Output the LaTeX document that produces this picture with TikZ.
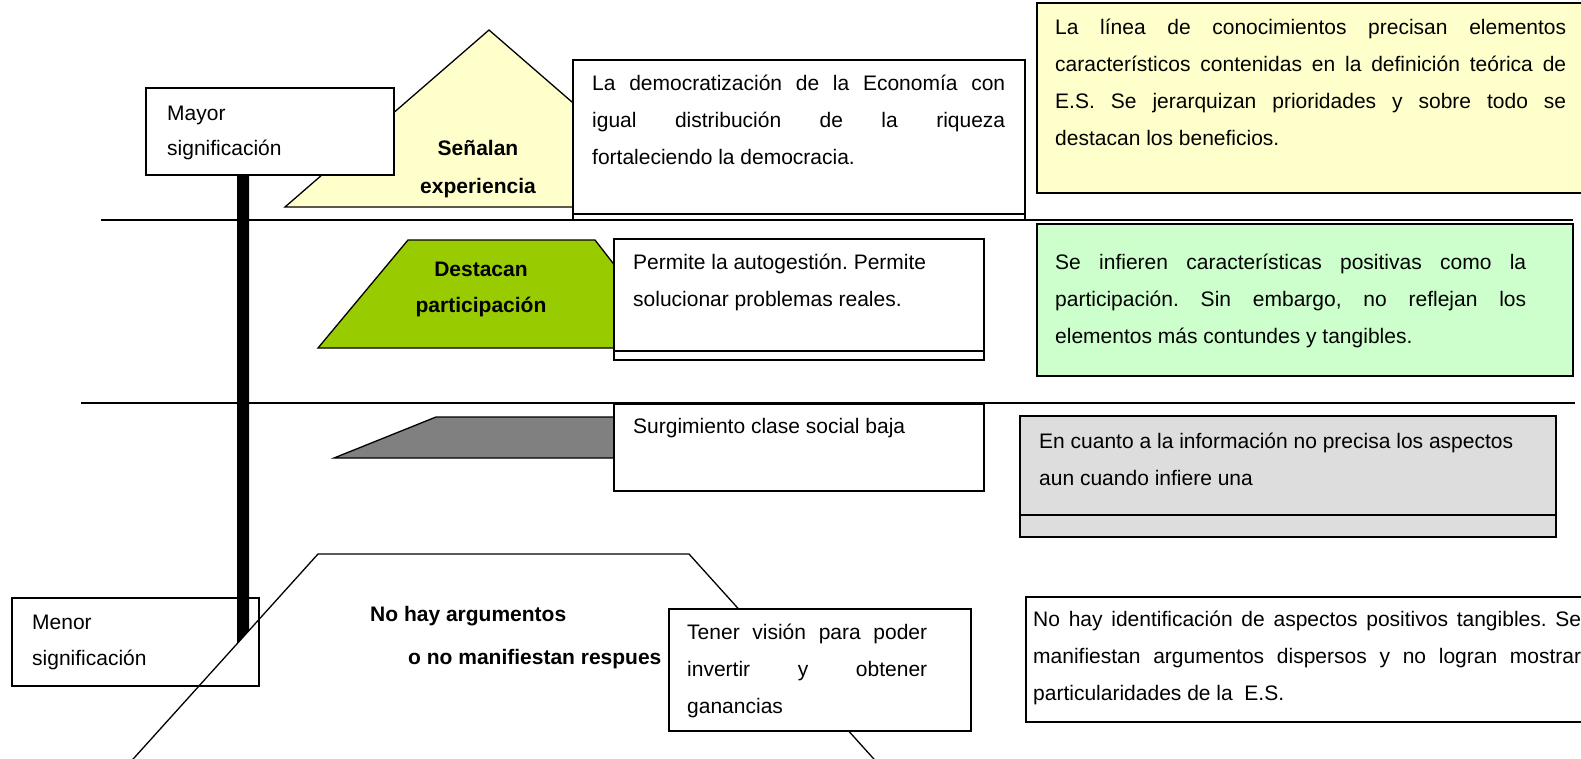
\documentclass[tikz,border=0pt]{standalone}
\usepackage{fontspec}
\setmainfont{Liberation Sans}
\frenchspacing
\definecolor{yellowA}{HTML}{FFFFCC}
\definecolor{greenA}{HTML}{CCFFCC}
\definecolor{greenT}{HTML}{99CC00}
\definecolor{grayT}{HTML}{808080}
\definecolor{grayB}{HTML}{DDDDDD}
\newcommand{\tbox}[3]{\parbox[t]{#1}{\fontsize{21}{#2}\selectfont\frenchspacing\tolerance=10000\hyphenpenalty=10000\emergencystretch=20pt #3}}
\newcommand{\cbox}[3]{\parbox[t]{#1}{\fontsize{21}{#2}\selectfont\bfseries\centering #3}}
\begin{document}
\begin{tikzpicture}[x=1pt,y=-1pt,
  ln/.style={line width=1.6pt},
  bx/.style={draw=black, line width=1.6pt, fill=white},
  shp/.style={draw=black, line width=1.3pt},
  txt/.style={anchor=base west, inner sep=0pt},
  ctxt/.style={anchor=base, inner sep=0pt}]
\useasboundingbox (0,0) rectangle (1581,758);
\clip (0,0) rectangle (1581,758);
% horizontal rules
\draw[ln] (101,220) -- (1573,220);
\draw[ln] (81,403) -- (1575,403);
% yellow triangle
\draw[shp, fill=yellowA] (285,207) -- (489,30) -- (693,207) -- cycle;
% Menor box
\draw[bx] (12,598) rectangle (259,686);
\node[txt] (menor) at (32,629) {\tbox{220pt}{36}{Menor\\significación}};
% vertical bar
\fill[black] (237,170) -- (249,170) -- (249,630.5) -- (237,643.8) -- cycle;
% Mayor box
\draw[bx] (146,88) rectangle (394,175);
\node[txt] (mayor) at (167,120) {\tbox{220pt}{35}{Mayor\\significación}};
\node[ctxt] (senalan) at (478,155) {\cbox{200pt}{38}{Señalan\\experiencia}};
% box 1
\draw[bx] (573,60) rectangle (1025,220);
\draw[ln] (573,214) -- (1025,214);
\node[txt] (t1) at (592,90) {\tbox{413pt}{37}{La democratización de la Economía con\linebreak igual distribución de la riqueza\linebreak fortaleciendo la democracia.}};
% right yellow box
\draw[bx, fill=yellowA] (1037,3) rectangle (1600,193);
\node[txt] (r1) at (1055,34) {\tbox{511pt}{37}{La línea de conocimientos precisan elementos\linebreak característicos contenidas en la definición teórica de\linebreak E.S. Se jerarquizan prioridades y sobre todo se\linebreak destacan los beneficios.}};
% green trapezoid
\draw[shp, fill=greenT] (318,348) -- (408,240) -- (595,240) -- (679,348) -- cycle;
\node[ctxt] (destacan) at (481,276) {\cbox{200pt}{36}{Destacan\\participación}};
% box 2
\draw[bx] (614,239) rectangle (984,360);
\draw[ln] (614,351) -- (984,351);
\node[txt] (t2) at (633,269) {\tbox{340pt}{37}{Permite la autogestión. Permite\\solucionar problemas reales.}};
% green box
\draw[bx, fill=greenA] (1037,224) rectangle (1573,376);
\node[txt] (r2) at (1055,269) {\tbox{471pt}{37}{Se infieren características positivas como la\linebreak participación. Sin embargo, no reflejan los\linebreak elementos más contundes y tangibles.}};
% gray shape
\draw[shp, fill=grayT] (334,458) -- (436,417) -- (640,417) -- (640,458) -- cycle;
\draw[bx] (614,404) rectangle (984,491);
\node[txt] (t3) at (633,433) {\tbox{340pt}{37}{Surgimiento clase social baja}};
% gray box
\draw[bx, fill=grayB] (1020,416) rectangle (1556,537);
\draw[ln] (1020,515) -- (1556,515);
\node[txt] (r3) at (1039,448) {\tbox{510pt}{37}{En cuanto a la información no precisa los aspectos\\aun cuando infiere una}};
% bottom trapezoid outline
\draw[shp] (116,778) -- (318,554) -- (689,554) -- (891,778);
\node[txt, font=\bfseries\fontsize{21}{37}\selectfont] (nohay) at (370,621) {No hay argumentos};
\node[txt, font=\bfseries\fontsize{21}{37}\selectfont] (nomani) at (408,664) {o no manifiestan respues};
% box 4
\draw[bx] (669,609) rectangle (971,731);
\node[txt] (t4) at (687,639) {\tbox{240pt}{37}{Tener visión para poder\linebreak invertir y obtener\linebreak ganancias}};
% bottom right box
\draw[bx] (1026,597) rectangle (1600,722);
\node[txt] (r4) at (1033,626) {\tbox{548pt}{37}{No hay identificación de aspectos positivos tangibles. Se\linebreak manifiestan argumentos dispersos y no logran mostrar\linebreak particularidades de la\ \ E.S.}};
\end{tikzpicture}
\end{document}
